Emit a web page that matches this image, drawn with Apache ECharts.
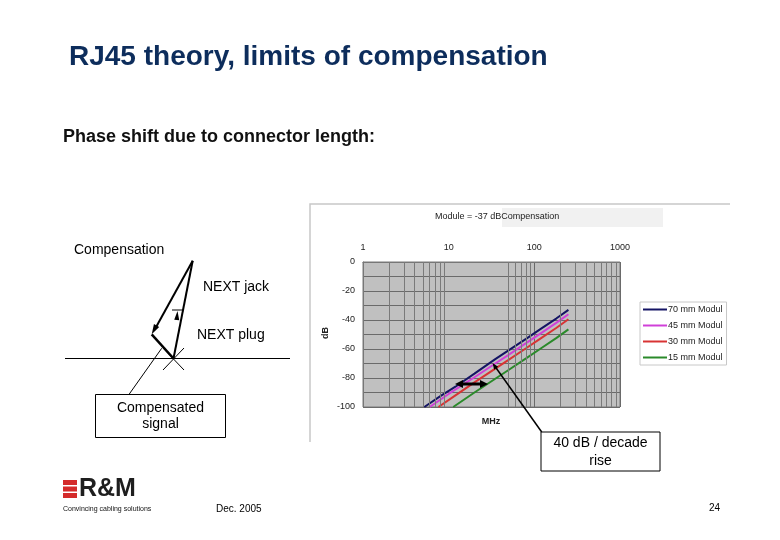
<!DOCTYPE html>
<html>
<head>
<meta charset="utf-8">
<script src="https://cdn.jsdelivr.net/npm/echarts@6/dist/echarts.min.js"></script>
<style>
html,body{margin:0;padding:0;background:#fff;}
#c{width:780px;height:540px;}
</style>
</head>
<body>
<div id="c"></div>
<script>
// ---- data ----
var seriesNames = ['70 mm Modul', '45 mm Modul', '30 mm Modul', '15 mm Modul'];
var seriesColors = ['#141464', '#D040D8', '#D83434', '#2A8A2A'];
var mod70 = [[5.2,-100],[8,-92.5],[12,-86],[20,-77],[35,-67],[50,-61],[80,-53],[120,-46],[180,-39],[250,-33]];
var mod45 = [[6,-100],[10,-91],[20,-79.5],[35,-70],[50,-64],[80,-56],[120,-49],[180,-42],[250,-36]];
var mod30 = [[7.6,-100],[12,-92],[20,-83],[35,-73.5],[50,-67.5],[80,-59.5],[120,-52.5],[180,-45.5],[250,-39.5]];
var mod15 = [[11.3,-100],[20,-90],[35,-80.5],[50,-74.5],[80,-66.5],[120,-59.5],[180,-52.5],[250,-46.5]];
// vertical grid lines that are visible in the reference picture
var minorFreqs = [2,3,4,5,6,7,8,9,50,60,70,80,90,200,300,400,500,600,700,800,900];
var xTicks = [1, 10, 100, 1000];
var yTicks = [0, -20, -40, -60, -80, -100];

var FONT = "'Liberation Sans', Arial, sans-serif";
var chart = echarts.init(document.getElementById('c'));

function arrowHead(x, y, angle, len, wid) {
  var bx = x - Math.cos(angle) * len, by = y - Math.sin(angle) * len;
  var px = -Math.sin(angle) * wid, py = Math.cos(angle) * wid;
  return { type: 'polygon', z: 100, shape: { points: [[x, y], [bx + px, by + py], [bx - px, by - py]] }, style: { fill: '#000' } };
}
function line(x1, y1, x2, y2, w) {
  return { type: 'line', z: 100, shape: { x1: x1, y1: y1, x2: x2, y2: y2 }, style: { stroke: '#000', lineWidth: w } };
}
function txt(x, y, s, size, opts) {
  return { type: 'text', z: 101, x: x, y: y, style: { text: s, font: (opts && opts.bold ? 'bold ' : '') + size + 'px ' + FONT, fill: (opts && opts.fill) || '#000', textAlign: (opts && opts.align) || 'left', textVerticalAlign: 'middle' } };
}

var graphics = [];
// Slide title and subtitle
graphics.push(txt(69, 57, 'RJ45 theory, limits of compensation', 28, { bold: true, fill: '#0D2D5C' }));
graphics.push(txt(63, 137, 'Phase shift due to connector length:', 18, { bold: true, fill: '#111' }));

// chart frame
graphics.push({ type: 'polyline', z: 0, shape: { points: [[310, 442], [310, 204], [730, 204]] }, style: { stroke: '#C8C8C8', lineWidth: 1.5, fill: null } });
graphics.push({ type: 'rect', z: 0, shape: { x: 502, y: 208, width: 161, height: 19 }, style: { fill: '#F1F1F1' } });
graphics.push(txt(435, 217, 'Module = -37 dBCompensation', 9, { fill: '#222' }));
graphics.push(txt(491, 422, 'MHz', 9, { bold: true, fill: '#222', align: 'center' }));
graphics.push({ type: 'text', z: 101, x: 326, y: 333, rotation: Math.PI / 2, style: { text: 'dB', font: 'bold 9px ' + FONT, fill: '#222', textAlign: 'center', textVerticalAlign: 'middle' } });

// double arrow inside plot
graphics.push(line(460, 384, 483, 384, 3));
graphics.push(arrowHead(455, 384, Math.PI, 8, 4));
graphics.push(arrowHead(488, 384, 0, 8, 4));

// callout
graphics.push(line(541.7, 432, 494, 365, 1.5));
graphics.push(arrowHead(492.7, 363.3, Math.atan2(363.3 - 432, 492.7 - 541.7), 6, 2.5));
graphics.push({ type: 'rect', z: 100, shape: { x: 541, y: 432, width: 119, height: 39 }, style: { fill: '#fff', stroke: '#000', lineWidth: 1 } });
graphics.push(txt(600.5, 443, '40 dB / decade', 14, { align: 'center' }));
graphics.push(txt(600.5, 461, 'rise', 14, { align: 'center' }));

// left vector diagram
graphics.push(line(65, 358.5, 290, 358.5, 1));
graphics.push(line(163, 348, 184, 370, 1));
graphics.push(line(184, 348, 163, 370, 1));
graphics.push(line(173.5, 358.5, 192.7, 260.7, 2));
graphics.push(arrowHead(177.5, 311, Math.atan2(311 - 358.5, 177.5 - 173.5), 9, 2.5));
graphics.push(line(172, 310, 183, 310, 1));
graphics.push(line(192.7, 260.7, 155, 329, 2));
graphics.push(arrowHead(151.7, 334.3, Math.atan2(334.3 - 260.7, 151.7 - 192.7), 10, 3));
graphics.push(line(151.7, 334.3, 173.5, 358.5, 2.5));
graphics.push(line(129.3, 394, 161.7, 348.3, 1));
graphics.push(txt(74, 250, 'Compensation', 14));
graphics.push(txt(203, 287, 'NEXT jack', 14));
graphics.push(txt(197, 335, 'NEXT plug', 14));
graphics.push({ type: 'rect', z: 100, shape: { x: 95.5, y: 394.5, width: 130, height: 43 }, style: { fill: '#fff', stroke: '#000', lineWidth: 1 } });
graphics.push(txt(160.5, 408, 'Compensated', 14, { align: 'center' }));
graphics.push(txt(160.5, 424, 'signal', 14, { align: 'center' }));

// footer
graphics.push({ type: 'rect', z: 100, shape: { x: 63, y: 480, width: 14, height: 5 }, style: { fill: '#D42A2A' } });
graphics.push({ type: 'rect', z: 100, shape: { x: 63, y: 486.5, width: 14, height: 5 }, style: { fill: '#D42A2A' } });
graphics.push({ type: 'rect', z: 100, shape: { x: 63, y: 493, width: 14, height: 5 }, style: { fill: '#D42A2A' } });
graphics.push(txt(79, 489.5, 'R&M', 25, { bold: true, fill: '#1E1E1E' }));
graphics.push(txt(63, 509, 'Convincing cabling solutions', 7, { fill: '#111' }));
graphics.push(txt(216, 509, 'Dec. 2005', 10));
graphics.push(txt(709, 508, '24', 10));

function mkSeries(name, data, color) {
  return {
    name: name, type: 'line', data: data, showSymbol: false, symbol: 'none', z: 3,
    lineStyle: { color: color, width: 2 }, itemStyle: { color: color }, clip: true
  };
}

var option = {
  animation: false,
  backgroundColor: '#fff',
  textStyle: { fontFamily: FONT },
  grid: { left: 363, top: 262, width: 257, height: 145, show: true, backgroundColor: '#C0C0C0', borderColor: '#7a7a7a', borderWidth: 1 },
  xAxis: {
    type: 'log', logBase: 10, min: 1, max: 1000, position: 'top',
    axisLine: { show: true, lineStyle: { color: '#777' } },
    axisTick: { show: false },
    axisLabel: { fontSize: 9, color: '#222', margin: 10, fontFamily: FONT,
      formatter: function (v) { return xTicks.indexOf(Math.round(v)) >= 0 ? String(Math.round(v)) : ''; } },
    splitLine: { show: true, lineStyle: { color: ['#6a6a6a', 'rgba(0,0,0,0)', '#6a6a6a', '#6a6a6a'], width: 1 } }
  },
  yAxis: {
    type: 'value', min: -100, max: 0, interval: 10,
    axisLine: { show: true, lineStyle: { color: '#777' } },
    axisTick: { show: false },
    axisLabel: { fontSize: 9, color: '#222', margin: 8, fontFamily: FONT,
      formatter: function (v) { return yTicks.indexOf(v) >= 0 ? String(v) : ''; } },
    splitLine: { show: true, lineStyle: { color: '#6a6a6a', width: 1 } }
  },
  legend: {
    orient: 'vertical', left: 640, top: 302, data: seriesNames,
    backgroundColor: '#fff', borderColor: '#C8C8C8', borderWidth: 1,
    padding: [3, 4, 3, 3], itemGap: 7, itemWidth: 24, itemHeight: 2, icon: 'rect',
    textStyle: { fontSize: 9, color: '#222', fontFamily: FONT, padding: [0, 0, 0, -4] }
  },
  series: [
    { name: 'minor', type: 'line', data: [], z: 1,
      markLine: { silent: true, symbol: 'none', label: { show: false }, animation: false,
        lineStyle: { color: '#7a7a7a', width: 1, type: 'solid' },
        data: minorFreqs.map(function (f) { return { xAxis: f }; }) } },
    mkSeries(seriesNames[0], mod70, seriesColors[0]),
    mkSeries(seriesNames[1], mod45, seriesColors[1]),
    mkSeries(seriesNames[2], mod30, seriesColors[2]),
    mkSeries(seriesNames[3], mod15, seriesColors[3])
  ],
  graphic: graphics
};
chart.setOption(option);
</script>
</body>
</html>
